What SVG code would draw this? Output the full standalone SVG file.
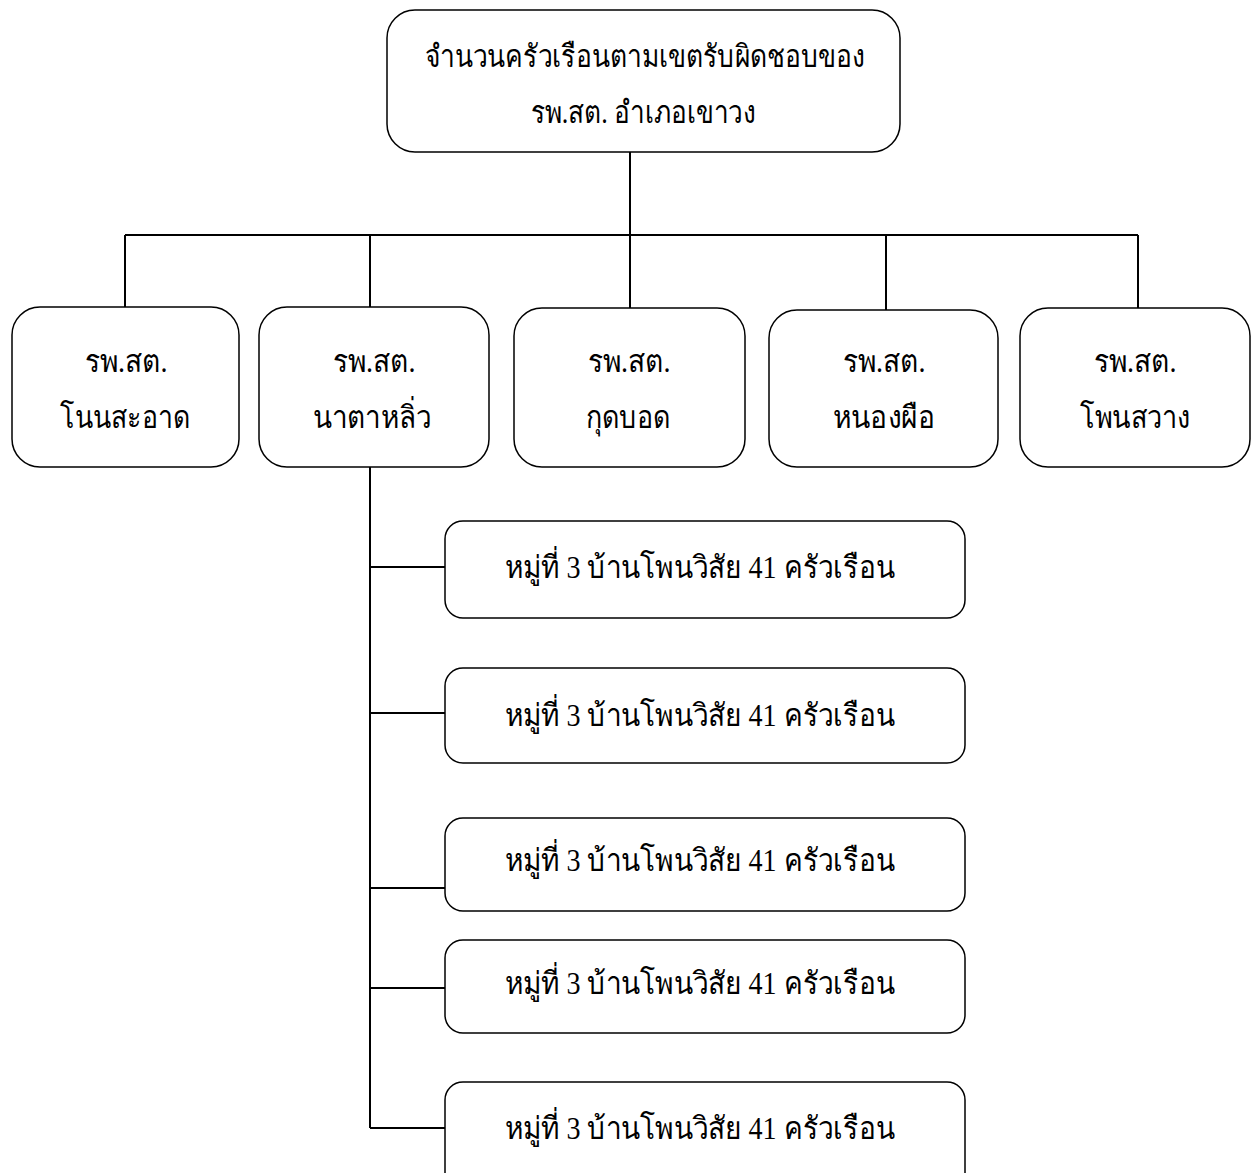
<svg xmlns="http://www.w3.org/2000/svg" width="1257" height="1173" viewBox="0 0 1257 1173">
<style>
.box{fill:#fff;stroke:#000;stroke-width:1.5}
.t{font-family:"Liberation Serif","DejaVu Serif",serif;font-size:31px;fill:#000;text-anchor:middle}
.c{stroke:#000;stroke-width:2;fill:none}
</style>
<rect width="1257" height="1173" fill="#fff"/>
<g id="connectors">
<path class="c" d="M630 152V235M125 235H1138M125 235V307M370 235V307M630 235V308M886 235V310M1138 235V308"/>
<path class="c" d="M370 467V1128M370 567H445M370 713H445M370 888H445M370 988H445M370 1128H445"/>
</g>
<g id="root">
<rect class="box" x="387" y="10" width="513" height="142" rx="28"/>
<text class="t" x="645" y="67" textLength="440" lengthAdjust="spacingAndGlyphs">จำนวนครัวเรือนตามเขตรับผิดชอบของ</text>
<text class="t" x="643" y="123" textLength="225" lengthAdjust="spacingAndGlyphs">รพ.สต. อำเภอเขาวง</text>
</g>
<g id="n1">
<rect class="box" x="12" y="307" width="227" height="160" rx="28"/>
<text class="t" x="126" y="372" textLength="83" lengthAdjust="spacingAndGlyphs">รพ.สต.</text>
<text class="t" x="125" y="428" textLength="130" lengthAdjust="spacingAndGlyphs">โนนสะอาด</text>
</g>
<g id="n2">
<rect class="box" x="259" y="307" width="230" height="160" rx="28"/>
<text class="t" x="374" y="372" textLength="83" lengthAdjust="spacingAndGlyphs">รพ.สต.</text>
<text class="t" x="372" y="428" textLength="118" lengthAdjust="spacingAndGlyphs">นาตาหลิ่ว</text>
</g>
<g id="n3">
<rect class="box" x="514" y="308" width="231" height="159" rx="28"/>
<text class="t" x="629" y="372" textLength="83" lengthAdjust="spacingAndGlyphs">รพ.สต.</text>
<text class="t" x="628" y="428" textLength="85" lengthAdjust="spacingAndGlyphs">กุดบอด</text>
</g>
<g id="n4">
<rect class="box" x="769" y="310" width="229" height="157" rx="28"/>
<text class="t" x="884" y="372" textLength="83" lengthAdjust="spacingAndGlyphs">รพ.สต.</text>
<text class="t" x="884" y="428" textLength="102" lengthAdjust="spacingAndGlyphs">หนองผือ</text>
</g>
<g id="n5">
<rect class="box" x="1020" y="308" width="230" height="159" rx="28"/>
<text class="t" x="1135" y="372" textLength="83" lengthAdjust="spacingAndGlyphs">รพ.สต.</text>
<text class="t" x="1135" y="428" textLength="110" lengthAdjust="spacingAndGlyphs">โพนสวาง</text>
</g>
<g id="c1">
<rect class="box" x="445" y="521" width="520" height="97" rx="18"/>
<text class="t" x="700" y="578" textLength="390" lengthAdjust="spacingAndGlyphs">หมู่ที่ 3 บ้านโพนวิสัย 41 ครัวเรือน</text>
</g>
<g id="c2">
<rect class="box" x="445" y="668" width="520" height="95" rx="18"/>
<text class="t" x="700" y="726" textLength="390" lengthAdjust="spacingAndGlyphs">หมู่ที่ 3 บ้านโพนวิสัย 41 ครัวเรือน</text>
</g>
<g id="c3">
<rect class="box" x="445" y="818" width="520" height="93" rx="18"/>
<text class="t" x="700" y="871" textLength="390" lengthAdjust="spacingAndGlyphs">หมู่ที่ 3 บ้านโพนวิสัย 41 ครัวเรือน</text>
</g>
<g id="c4">
<rect class="box" x="445" y="940" width="520" height="93" rx="18"/>
<text class="t" x="700" y="994" textLength="390" lengthAdjust="spacingAndGlyphs">หมู่ที่ 3 บ้านโพนวิสัย 41 ครัวเรือน</text>
</g>
<g id="c5">
<rect class="box" x="445" y="1082" width="520" height="110" rx="18"/>
<text class="t" x="700" y="1139" textLength="390" lengthAdjust="spacingAndGlyphs">หมู่ที่ 3 บ้านโพนวิสัย 41 ครัวเรือน</text>
</g>
</svg>
